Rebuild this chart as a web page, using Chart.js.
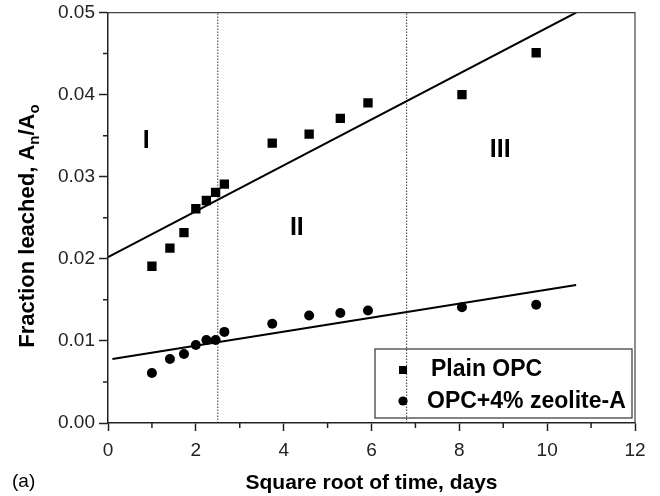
<!DOCTYPE html>
<html>
<head>
<meta charset="utf-8">
<script src="https://cdn.jsdelivr.net/npm/chart.js@4.4.1/dist/chart.umd.min.js"></script>
<style>
  html, body { margin: 0; padding: 0; background: #fff; }
  #wrap { width: 660px; height: 496px; position: relative; }
</style>
</head>
<body>
<div id="wrap"><canvas id="chart"></canvas></div>
<script>
// data
const sqrtTime = [1, 1.41, 1.73, 2, 2.24, 2.45, 2.65, 3.74, 4.58, 5.29, 5.92, 8.06, 9.75];
const plainOpc = [0.0191, 0.0213, 0.0232, 0.0261, 0.0271, 0.0281, 0.0291, 0.0341, 0.0352, 0.0371, 0.0390, 0.0400, 0.0451];
const zeoliteA = [0.0061, 0.0078, 0.0084, 0.0095, 0.0101, 0.0101, 0.0111, 0.0121, 0.0131, 0.0134, 0.0137, 0.0141, 0.0144];

// fitted lines (end points)
const plainFitX = [0, 10.66];
const plainFitY = [0.0202, 0.0500];
const zeoFitX = [0.1, 10.66];
const zeoFitY = [0.0078, 0.0168];

// region boundaries and labels
const boundaries = [2.5, 6.8];
const regionNames = ['I', 'II', 'III'];
const regionX = [0.87, 4.3, 8.93];
const regionY = [0.0343, 0.0237, 0.0332];

const seriesNames = ['Plain OPC', 'OPC+4% zeolite-A'];

const toPts = (xs, ys) => xs.map((x, i) => ({x: x, y: ys[i]}));

let datasets = [
  {label: seriesNames[0], data: toPts(sqrtTime, plainOpc), pointStyle: 'rect', pointRadius: 6.6,
   backgroundColor: '#000', borderColor: '#000', borderWidth: 0, showLine: false},
  {label: seriesNames[1], data: toPts(sqrtTime, zeoliteA), pointStyle: 'circle', pointRadius: 5,
   backgroundColor: '#000', borderColor: '#000', borderWidth: 0, showLine: false},
  {label: 'fit1', data: toPts(plainFitX, plainFitY), showLine: true, pointRadius: 0,
   borderColor: '#000', borderWidth: 2},
  {label: 'fit2', data: toPts(zeoFitX, zeoFitY), showLine: true, pointRadius: 0,
   borderColor: '#000', borderWidth: 2}
];
boundaries.forEach(b => {
  datasets.push({label: 'b' + b, data: [{x: b, y: 0}, {x: b, y: 0.05}], showLine: true, pointRadius: 0,
    borderColor: '#333', borderWidth: 1, borderDash: [1.5, 1.5]});
});

const font = 'Liberation Sans, Arial, Helvetica, sans-serif';

// draws the frame, minor ticks, titles, labels and legend
const extras = {
  id: 'extras',
  afterDraw(chart) {
    const ctx = chart.ctx;
    const a = chart.chartArea;
    const xs = chart.scales.x, ys = chart.scales.y;
    ctx.save();

    // frame top/right
    ctx.strokeStyle = '#444';
    ctx.lineWidth = 1.2;
    ctx.beginPath();
    ctx.moveTo(a.left, a.top); ctx.lineTo(a.right, a.top); ctx.lineTo(a.right, a.bottom);
    ctx.stroke();

    // minor ticks
    ctx.strokeStyle = '#222';
    ctx.lineWidth = 1.5;
    ctx.beginPath();
    for (let v = 1; v < 12; v += 2) {
      let px = xs.getPixelForValue(v);
      ctx.moveTo(px, a.bottom); ctx.lineTo(px, a.bottom + 5);
    }
    for (let v = 0.005; v < 0.05; v += 0.01) {
      let py = ys.getPixelForValue(v);
      ctx.moveTo(a.left, py); ctx.lineTo(a.left - 5, py);
    }
    ctx.stroke();

    // region labels
    ctx.fillStyle = '#000';
    ctx.font = 'bold 25px ' + font;
    ctx.textAlign = 'center';
    ctx.textBaseline = 'middle';
    regionNames.forEach((n, i) => {
      ctx.fillText(n, xs.getPixelForValue(regionX[i]), ys.getPixelForValue(regionY[i]));
    });

    // x title
    ctx.font = 'bold 21px ' + font;
    ctx.textBaseline = 'middle';
    ctx.fillText('Square root of time, days', (a.left + a.right) / 2, 483);

    // (a)
    ctx.font = '19px ' + font;
    ctx.textAlign = 'left';
    ctx.fillText('(a)', 12, 482);

    // y title with subscripts
    const parts = [['Fraction leached, A', false], ['n', true], ['/A', false], ['o', true]];
    const big = 'bold 22px ' + font, small = 'bold 15px ' + font;
    let total = 0;
    parts.forEach(p => { ctx.font = p[1] ? small : big; total += ctx.measureText(p[0]).width; });
    ctx.translate(27, 226);
    ctx.rotate(-Math.PI / 2);
    ctx.textAlign = 'left';
    ctx.textBaseline = 'alphabetic';
    let cx = -total / 2;
    parts.forEach(p => {
      ctx.font = p[1] ? small : big;
      ctx.fillText(p[0], cx, p[1] ? 12 : 7);
      cx += ctx.measureText(p[0]).width;
    });
    ctx.setTransform(1, 0, 0, 1, 0, 0);

    // legend box (transparent, boundary line shows through)
    ctx.strokeStyle = '#333';
    ctx.lineWidth = 1.2;
    ctx.strokeRect(375, 349, 257, 69);
    ctx.fillStyle = '#000';
    ctx.fillRect(399, 366, 8, 8);
    ctx.beginPath();
    ctx.arc(403, 401, 4.6, 0, Math.PI * 2);
    ctx.fill();
    ctx.font = 'bold 23px ' + font;
    ctx.textBaseline = 'middle';
    ctx.fillText(seriesNames[0], 431, 370);
    ctx.fillText(seriesNames[1], 427, 402);

    ctx.restore();
  }
};

new Chart(document.getElementById('chart'), {
  type: 'scatter',
  data: {datasets: datasets},
  options: {
    responsive: true,
    maintainAspectRatio: false,
    animation: false,
    layout: {padding: {left: 0, top: 12, right: 25, bottom: 0}},
    plugins: {legend: {display: false}, tooltip: {enabled: false}},
    scales: {
      x: {
        type: 'linear', min: 0, max: 12,
        border: {display: true, color: '#222', width: 1.5},
        grid: {drawOnChartArea: false, tickLength: 8, tickColor: '#222', tickWidth: 1.5},
        ticks: {stepSize: 2, padding: 8, color: '#222', font: {family: font, size: 19}},
        afterFit: s => { s.height = 73; }
      },
      y: {
        type: 'linear', min: 0, max: 0.05,
        border: {display: true, color: '#222', width: 1.5},
        grid: {drawOnChartArea: false, tickLength: 9, tickColor: '#222', tickWidth: 1.5},
        ticks: {stepSize: 0.01, padding: 4, color: '#222', font: {family: font, size: 19, lineHeight: 0.9},
                callback: v => v.toFixed(2)},
        afterFit: s => { s.width = 108; }
      }
    }
  },
  plugins: [extras]
});
</script>
</body>
</html>
